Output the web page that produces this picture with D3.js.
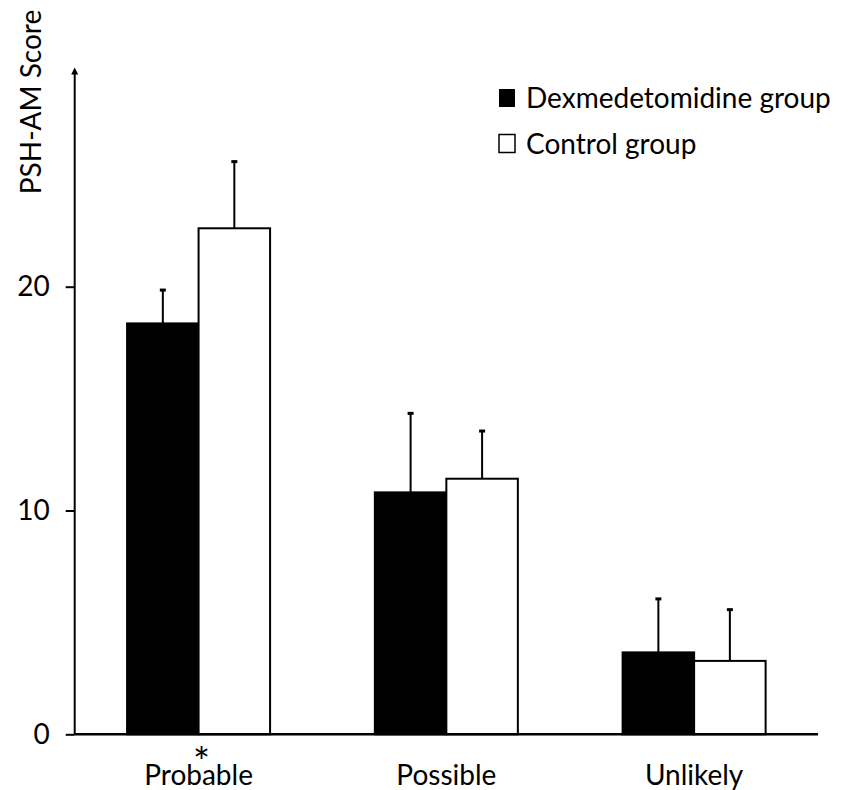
<!DOCTYPE html>
<html>
<head>
<meta charset="utf-8">
<script src="https://cdn.jsdelivr.net/npm/d3@7"></script>
<style>
  html, body { margin: 0; padding: 0; background: #fff; }
  svg { display: block; }
  text { font-family: Lato, "Open Sans", sans-serif; fill: #000; }
</style>
</head>
<body>
<svg id="chart" width="851" height="790"></svg>
<script>
const categories = ["Probable", "Possible", "Unlikely"];
const seriesNames = ["Dexmedetomidine group", "Control group"];
const dexMeans = [18.36, 10.81, 3.66];
const dexSD = [1.49, 3.53, 2.39];
const ctrlMeans = [22.61, 11.42, 3.28];
const ctrlSD = [2.98, 2.13, 2.29];
const yTicks = [0, 10, 20];
const significant = ["Probable"];

const svg = d3.select("#chart");
const axisX = 74.7, baseY = 734.3, axisRight = 818;
const y = d3.scaleLinear().domain([0, 30]).range([baseY, baseY - 30 * 22.38]);
const x0 = d3.scaleBand().domain(categories).range([axisX, axisRight]).padding(0);
const barW = 71.5;
const x1 = d3.scaleBand().domain(seriesNames)
  .range([x0.bandwidth() / 2 - barW, x0.bandwidth() / 2 + barW]).padding(0);

const rows = categories.map((c, i) => ({
  cat: c,
  vals: [
    { s: seriesNames[0], m: dexMeans[i], sd: dexSD[i], fill: "#000" },
    { s: seriesNames[1], m: ctrlMeans[i], sd: ctrlSD[i], fill: "#fff" }
  ]
}));

const g = svg.append("g");
const grp = g.selectAll("g.cat").data(rows).join("g")
  .attr("transform", d => `translate(${x0(d.cat)},0)`);

// error bars
grp.selectAll("line.err").data(d => d.vals).join("line")
  .attr("x1", d => x1(d.s) + x1.bandwidth() / 2)
  .attr("x2", d => x1(d.s) + x1.bandwidth() / 2)
  .attr("y1", d => y(d.m))
  .attr("y2", d => y(d.m + d.sd))
  .attr("stroke", "#000").attr("stroke-width", 2);
grp.selectAll("line.cap").data(d => d.vals).join("line")
  .attr("x1", d => x1(d.s) + x1.bandwidth() / 2 - 3)
  .attr("x2", d => x1(d.s) + x1.bandwidth() / 2 + 3)
  .attr("y1", d => y(d.m + d.sd))
  .attr("y2", d => y(d.m + d.sd))
  .attr("stroke", "#000").attr("stroke-width", 3);

grp.selectAll("rect").data(d => d.vals).join("rect")
  .attr("x", d => x1(d.s))
  .attr("y", d => y(d.m))
  .attr("width", x1.bandwidth())
  .attr("height", d => y(0) - y(d.m))
  .attr("fill", d => d.fill)
  .attr("stroke", "#000").attr("stroke-width", 2);

// y axis
const yAxis = d3.axisLeft(y).tickValues(yTicks).tickSize(9).tickPadding(16).tickFormat(d3.format("d"));
const ya = svg.append("g").attr("transform", `translate(${axisX},0)`).call(yAxis);
ya.select(".domain").remove();
ya.selectAll(".tick line").attr("stroke", "#000").attr("stroke-width", 2);
ya.selectAll(".tick text").attr("font-size", 28).attr("font-family", "Lato, 'Open Sans', sans-serif").attr("fill", "#000");
const topY = y(29.8);
svg.append("line").attr("x1", axisX).attr("x2", axisX).attr("y1", baseY).attr("y2", topY + 4)
  .attr("stroke", "#000").attr("stroke-width", 2);
svg.append("path")
  .attr("d", `M${axisX - 3.5},${topY + 7} L${axisX},${topY} L${axisX + 3.5},${topY + 7} Z`)
  .attr("fill", "#000");

// x axis
const xAxis = d3.axisBottom(x0).tickSize(0).tickPadding(31);
const xa = svg.append("g").attr("transform", `translate(0,${baseY})`).call(xAxis);
xa.select(".domain").attr("stroke", "#000").attr("stroke-width", 2.5).attr("d", `M${axisX},0H${axisRight}`);
xa.selectAll(".tick text").attr("font-size", 28).attr("font-family", "Lato, 'Open Sans', sans-serif").attr("fill", "#000");

// significance asterisk
svg.selectAll("text.star").data(significant).join("text")
  .attr("class", "star")
  .attr("x", d => x0(d) + x0.bandwidth() / 2 + 3)
  .attr("y", baseY + 43)
  .attr("text-anchor", "middle")
  .attr("font-size", 40)
  .text("*");

// y title
svg.append("text")
  .attr("transform", `translate(41,102) rotate(-90)`)
  .attr("text-anchor", "middle")
  .attr("font-size", 28)
  .text("PSH-AM Score");

// legend
const leg = svg.append("g").selectAll("g").data(seriesNames).join("g")
  .attr("transform", (d, i) => `translate(498,${88 + i * 45.5})`);
leg.append("rect").attr("x", 1).attr("y", 1).attr("width", 16).attr("height", 18)
  .attr("fill", (d, i) => i === 0 ? "#000" : "#fff")
  .attr("stroke", "#000").attr("stroke-width", (d, i) => i === 0 ? 0 : 1.5);
leg.append("text").attr("x", 28).attr("y", 20).attr("font-size", 28).text(d => d);
</script>
</body>
</html>
